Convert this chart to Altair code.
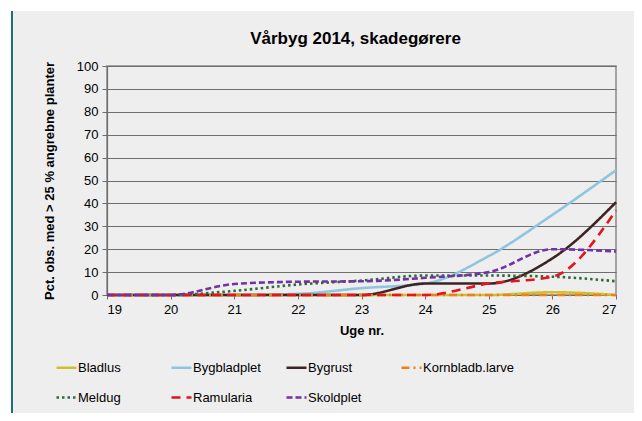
import altair as alt
import pandas as pd

weeks = [19, 20, 21, 22, 23, 24, 25, 26, 27]
series_names = ["Bladlus", "Bygbladplet", "Bygrust", "Kornbladb.larve", "Meldug", "Ramularia", "Skoldplet"]
bladlus = [0, 0, 0, 0, 0, 0, 0, 1.2, 0]
bygbladplet = [0, 0, 0, 0.5, 3, 5, 17, 35, 54.5]
bygrust = [0, 0, 0, 0, 0, 5, 5, 16, 40.5]
kornbladb_larve = [0, 0, 0, 0, 0, 0, 0, 0, 0]
meldug = [0, 0, 1.8, 4.6, 6.3, 8.5, 8.5, 8, 6]
ramularia = [0, 0, 0, 0, 0, 0, 5, 8, 37]
skoldplet = [0, 0, 4.8, 5.8, 6, 7.5, 10, 20, 19]

colors = ["#d2bf2c", "#8fc5df", "#3f2324", "#e9821c", "#2e6b3b", "#e3141c", "#7332a3"]
dashes = [[1, 0], [1, 0], [1, 0], [8, 4, 2, 4], [2.5, 3], [9, 6], [6, 3]]

all_series = [bladlus, bygbladplet, bygrust, kornbladb_larve, meldug, ramularia, skoldplet]
rows = []
for name, vals in zip(series_names, all_series):
    for w, v in zip(weeks, vals):
        rows.append({"Uge": w, "Pct": v, "Serie": name})
df = pd.DataFrame(rows)

FONT = "Liberation Sans"

one = pd.DataFrame({"a": [0]})
white_top = alt.Chart(one).mark_rect(color="white").encode(
    x=alt.value(-99), x2=alt.value(527), y=alt.value(-58), y2=alt.value(-55)
)
white_left = alt.Chart(one).mark_rect(color="white").encode(
    x=alt.value(-99), x2=alt.value(-95), y=alt.value(-58), y2=alt.value(347)
)
edge = alt.Chart(one).mark_rule(color="#1f6e7c", strokeWidth=2).encode(
    x=alt.value(-95), y=alt.value(-55), y2=alt.value(347)
)

leg = dict(title=None, orient="none", legendX=-52, legendY=290, direction="horizontal",
           columns=4, gridAlign="all", columnPadding=-17, rowPadding=11,
           symbolType="stroke", symbolSize=400, symbolStrokeWidth=2.6, labelOffset=0,
           labelFontSize=13, labelFont=FONT, labelColor="#000000", labelLimit=200)

lines = alt.Chart(df).mark_line(strokeWidth=2.6, interpolate="monotone").encode(
    x=alt.X("Uge:Q", scale=alt.Scale(domain=[19, 27], nice=False, zero=False),
            axis=alt.Axis(values=weeks, title="Uge nr.", grid=False, tickSize=4,
                          labelPadding=4, titlePadding=8, format="d")),
    y=alt.Y("Pct:Q", scale=alt.Scale(domain=[0, 100], nice=False),
            axis=alt.Axis(values=list(range(0, 101, 10)),
                          title="Pct. obs. med > 25 % angrebne planter",
                          grid=True, tickSize=5, labelPadding=4, titlePadding=20)),
    color=alt.Color("Serie:N", scale=alt.Scale(domain=series_names, range=colors),
                    legend=alt.Legend(**leg)),
    strokeDash=alt.StrokeDash("Serie:N", scale=alt.Scale(domain=series_names, range=dashes),
                              legend=alt.Legend(**leg)),
    order=alt.Order("Uge:Q"),
)

chart = alt.layer(white_top, white_left, edge, lines).properties(
    width=509,
    height=229,
    title=alt.TitleParams("Vårbyg 2014, skadegørere", anchor="middle", frame="group",
                          fontSize=17, font=FONT, fontWeight="bold", color="#000000",
                          offset=-40, dx=-6),
    autosize=alt.AutoSizeParams(type="none"),
    padding={"left": 99, "top": 58, "right": 18, "bottom": 118},
    background="#eeeeee",
).configure_view(
    stroke="#8a8a8a", strokeWidth=1.5, fill=None
).configure_axis(
    labelFont=FONT, labelFontSize=13, labelColor="#000000",
    titleFont=FONT, titleFontSize=13, titleFontWeight="bold", titleColor="#000000",
    domainColor="#6e6e6e", tickColor="#6e6e6e", gridColor="#6e6e6e", gridWidth=1,
    domainWidth=1.2,
)

chart.save("out.html", embed_options={"renderer": "svg", "actions": False})
